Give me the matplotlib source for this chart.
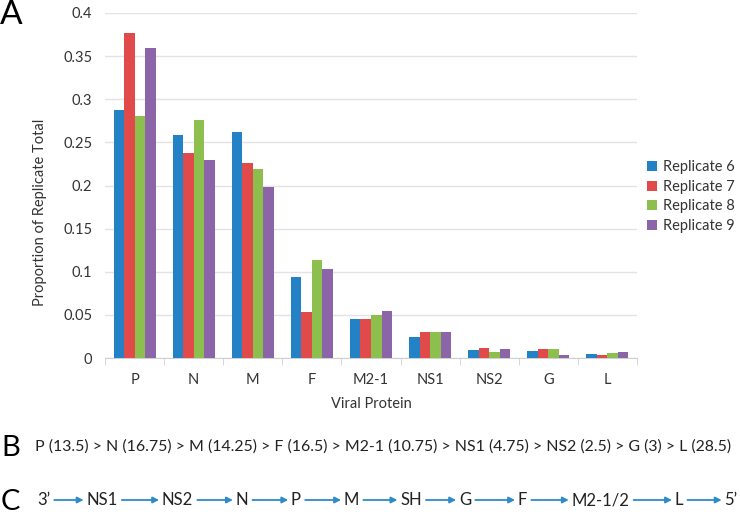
import matplotlib
matplotlib.use("Agg")
import matplotlib.pyplot as plt
import numpy as np

plt.rcParams['font.family'] = ['Lato', 'DejaVu Sans']

# --- data (panel A) ---
proteins = ["P", "N", "M", "F", "M2-1", "NS1", "NS2", "G", "L"]
rep6 = [0.288, 0.259, 0.262, 0.094, 0.045, 0.024, 0.009, 0.008, 0.005]
rep7 = [0.377, 0.238, 0.226, 0.053, 0.045, 0.030, 0.012, 0.011, 0.003]
rep8 = [0.281, 0.276, 0.219, 0.114, 0.050, 0.030, 0.007, 0.010, 0.006]
rep9 = [0.359, 0.229, 0.198, 0.103, 0.054, 0.030, 0.011, 0.004, 0.007]
series_names = ["Replicate 6", "Replicate 7", "Replicate 8", "Replicate 9"]
colors = ["#2381C6", "#E04A4A", "#8DBF4F", "#8C64A8"]
yticks = [0, 0.05, 0.1, 0.15, 0.2, 0.25, 0.3, 0.35, 0.4]
ytick_labels = ["0", "0.05", "0.1", "0.15", "0.2", "0.25", "0.3", "0.35", "0.4"]

# --- panel B ranking text ---
rank_names = ["P", "N", "M", "F", "M2-1", "NS1", "NS2", "G", "L"]
rank_vals = ["13.5", "16.75", "14.25", "16.5", "10.75", "4.75", "2.5", "3", "28.5"]

# --- panel C gene order ---
gene_order = ["3\u2019", "NS1", "NS2", "N", "P", "M", "SH", "G", "F", "M2-1/2", "L", "5\u2019"]
gene_x = [43.5, 102, 177.5, 242, 296, 351.5, 411, 465, 522.5, 600.5, 679, 731]

W, H = 740, 514
txt = "#333333"
fig = plt.figure(figsize=(W / 100, H / 100), dpi=100)
ax = fig.add_axes([105 / W, 1 - 358 / H, (637 - 105) / W, (358 - 13) / H])

x = np.arange(len(proteins))
bw = 0.178
for i, (vals, name, c) in enumerate(zip([rep6, rep7, rep8, rep9], series_names, colors)):
    ax.bar(x + (i - 1.5) * bw, vals, bw, color=c, label=name, zorder=3)

ax.set_xlim(-0.5, len(proteins) - 0.5)
ax.set_ylim(0, 0.4)
ax.set_yticks(yticks)
ax.set_yticklabels(ytick_labels)
ax.yaxis.grid(True, color="#E3E3E3", linewidth=1, zorder=0)
ax.set_xticks(x)
ax.set_xticklabels(proteins)
ax.set_xticks(np.arange(-0.5, len(proteins)), minor=True)
ax.tick_params(axis="x", which="major", length=0, pad=11, labelsize=10.5, colors=txt)
ax.tick_params(axis="x", which="minor", length=5, color="#D0D0D0")
ax.tick_params(axis="y", length=0, pad=9, labelsize=10.5, colors=txt)
for s in ["top", "right", "left"]:
    ax.spines[s].set_visible(False)
ax.spines["bottom"].set_color("#D0D0D0")

fig.text(371 / W, 1 - 404 / H, "Viral Protein", ha="center", va="center", fontsize=10.5, color=txt)
fig.text(40 / W, 1 - 212 / H, "Proportion of Replicate Total", ha="center", va="center",
         rotation=90, fontsize=10.5, color=txt)

ax.legend(loc="center left", bbox_to_anchor=(1.0, 0.468), frameon=False, fontsize=10.5,
          handlelength=0.65, handleheight=0.65, handletextpad=0.4, labelspacing=0.38,
          borderaxespad=0.3, labelcolor=txt)

# panel letters
fig.text(0 / W, 1 - 15 / H, "A", ha="left", va="center", fontsize=24)
fig.text(1 / W, 1 - 448 / H, "B", ha="left", va="center", fontsize=21)
fig.text(1 / W, 1 - 502 / H, "C", ha="left", va="center", fontsize=21)

# panel B
rank_text = " > ".join(f"{n} ({v})" for n, v in zip(rank_names, rank_vals))
fig.text(35 / W, 1 - 447 / H, rank_text, ha="left", va="center", fontsize=11.45, color="#222222")

# panel C
texts = [fig.text(gx / W, 1 - 500 / H, g, ha="center", va="center", fontsize=12, color="#222222")
         for g, gx in zip(gene_order, gene_x)]
for a, b in zip(texts[:-1], texts[1:]):
    fig.add_artist(plt.Annotation("", xy=(0, 0.5), xycoords=b, xytext=(1, 0.5), textcoords=a,
                                  arrowprops=dict(arrowstyle="-|>", color="#2E8BC9", lw=1.3,
                                                  shrinkA=3, shrinkB=2, mutation_scale=9)))

fig.savefig("out.png", dpi=100)
